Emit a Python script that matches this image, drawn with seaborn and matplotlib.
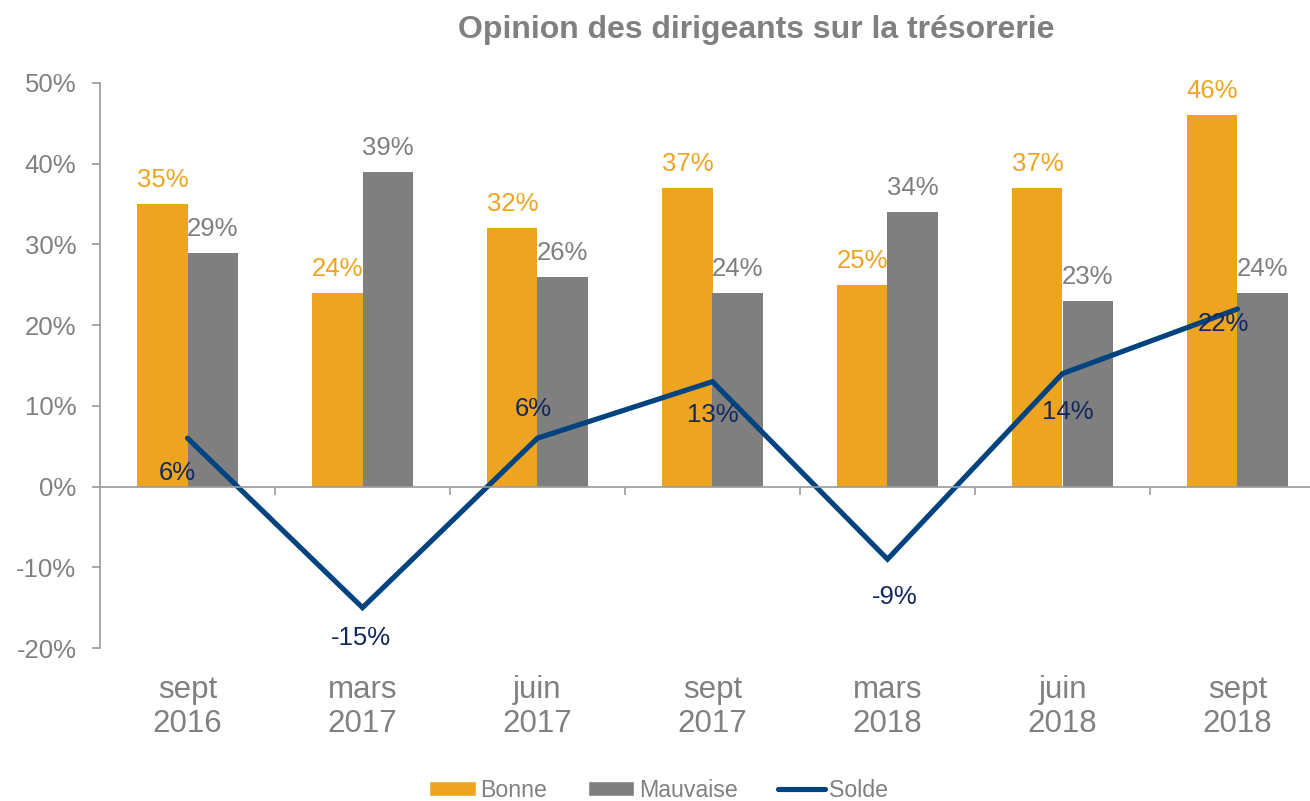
import numpy as np
import pandas as pd
import matplotlib
matplotlib.use('Agg')
import matplotlib.pyplot as plt
from matplotlib.ticker import FuncFormatter, FixedLocator
from matplotlib.patches import Patch
from matplotlib.lines import Line2D
import seaborn as sns

# DATA
periods = ['sept\n2016', 'mars\n2017', 'juin\n2017', 'sept\n2017',
           'mars\n2018', 'juin\n2018', 'sept\n2018']
bonne = [35, 24, 32, 37, 25, 37, 46]
mauvaise = [29, 39, 26, 24, 34, 23, 24]
solde = [6, -15, 6, 13, -9, 14, 22]
# label offsets for the Solde line (points, relative to each point)
solde_offsets = [(-7, -25), (-1, -22), (-3, 21), (0, -24), (5, -27), (4, -28), (-10, -11)]

ORANGE = '#EDA421'
GREY = '#7F7F7F'
NAVY = '#00437F'
NAVY_TXT = '#13285E'
TXT = '#808080'

df = pd.DataFrame({'periode': periods * 2,
                   'serie': ['Bonne'] * 7 + ['Mauvaise'] * 7,
                   'valeur': bonne + mauvaise})

sns.set_theme(style='white')
plt.rcParams['font.family'] = ['Liberation Sans', 'DejaVu Sans']

fig = plt.figure(figsize=(13.1, 8.01), dpi=100)
ax = fig.add_axes([100 / 1310, 153 / 801, 1225 / 1310, 565 / 801])

sns.barplot(data=df, x='periode', y='valeur', hue='serie',
            palette={'Bonne': ORANGE, 'Mauvaise': GREY},
            width=0.572, gap=0, dodge=True, saturation=1,
            linewidth=0, ax=ax, legend=False)
sns.lineplot(x=np.arange(len(solde)), y=solde, color=NAVY, linewidth=3.7,
             ax=ax, legend=False)
ax.lines[-1].set_solid_joinstyle('miter')

ax.set_xlim(-0.5, 6.5)
ax.set_ylim(-20, 50)
ax.set_xlabel('')
ax.set_ylabel('')

# y axis
ax.yaxis.set_major_locator(FixedLocator(range(-20, 51, 10)))
ax.yaxis.set_major_formatter(FuncFormatter(lambda v, p: '{:.0f}%'.format(v)))
ax.tick_params(axis='y', which='major', length=6, width=1.2, color='#9a9a9a',
               direction='out', pad=11, labelsize=18.5, labelcolor=TXT, left=True)

# x axis: line at zero with ticks between categories
for s in ['top', 'right']:
    ax.spines[s].set_visible(False)
ax.spines['left'].set_color('#9a9a9a')
ax.spines['left'].set_linewidth(1.2)
ax.spines['bottom'].set_position(('data', 0))
ax.spines['bottom'].set_color('#9a9a9a')
ax.spines['bottom'].set_linewidth(1.2)
ax.set_xticks(range(len(periods)))
ax.set_xticklabels(periods)
ax.xaxis.set_minor_locator(FixedLocator(np.arange(0.5, 6.5, 1)))
ax.tick_params(axis='x', which='major', length=0, pad=135.5, labelsize=22.5,
               labelcolor=TXT, bottom=True)
ax.tick_params(axis='x', which='minor', length=6, width=1.2, color='#9a9a9a',
               direction='out', bottom=True)

# bar labels
for cont, col in zip(ax.containers, [ORANGE, GREY]):
    ax.bar_label(cont, labels=['{}%'.format(int(v)) for v in cont.datavalues],
                 padding=8.5, fontsize=18.5, color=col)

# solde labels
for i, (v, off) in enumerate(zip(solde, solde_offsets)):
    ax.annotate('{}%'.format(v), xy=(i, v), xytext=off, textcoords='offset points',
                ha='center', va='center', fontsize=18.5, color=NAVY_TXT)

fig.text(756 / 1310, 1 - 30 / 801, 'Opinion des dirigeants sur la trésorerie',
         ha='center', va='center', fontsize=23, fontweight='bold', color=TXT)

handles = [Patch(facecolor=ORANGE, label='Bonne'),
           Patch(facecolor=GREY, label='Mauvaise'),
           Line2D([0], [0], color=NAVY, linewidth=3.7, solid_capstyle='round', label='Solde')]
leg = fig.legend(handles=handles, loc='lower center', bbox_to_anchor=(0.503, -0.027),
                 ncol=3, frameon=False, fontsize=16.7, handlelength=2.0,
                 handleheight=0.6, handletextpad=0.2, columnspacing=1.75)
for t in leg.get_texts():
    t.set_color(TXT)

fig.savefig('out.png', dpi=100)
